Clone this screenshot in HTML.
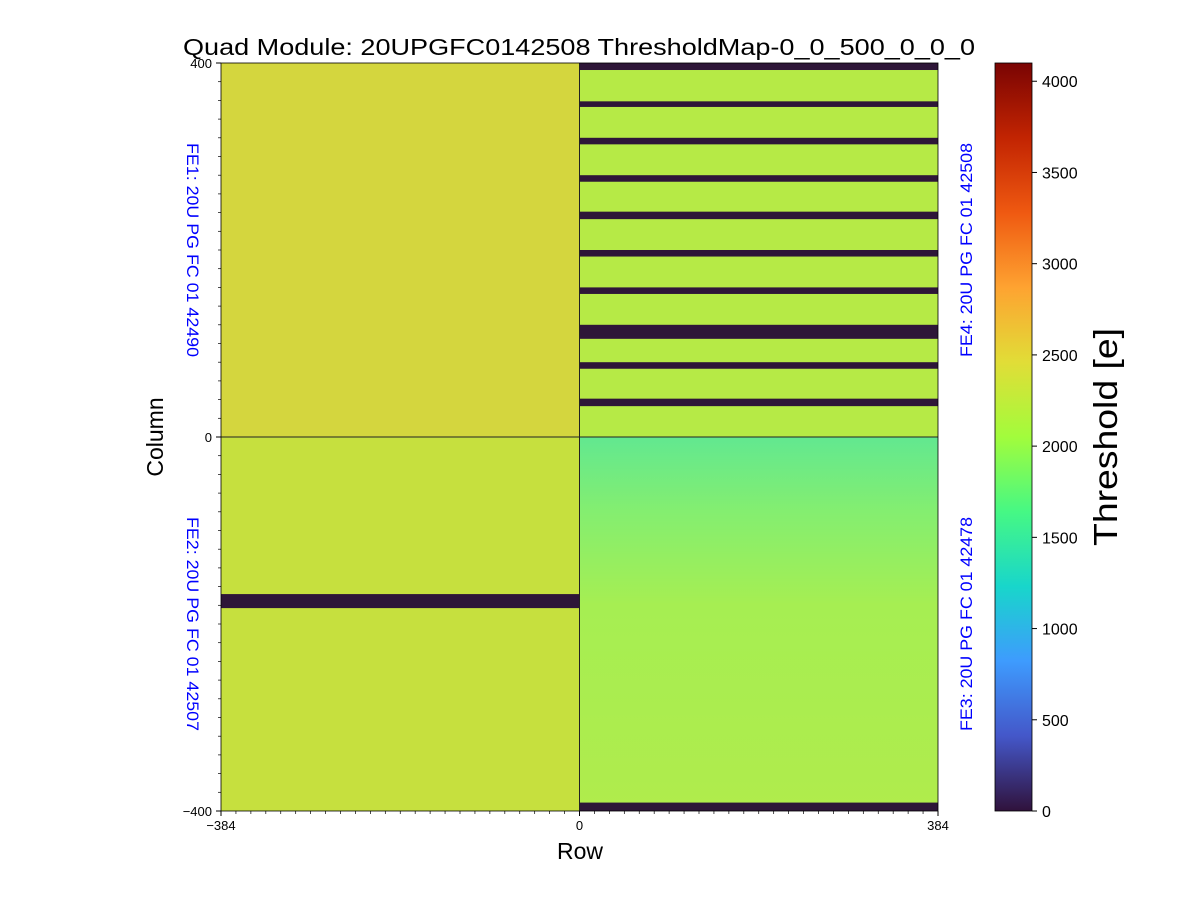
<!DOCTYPE html>
<html><head><meta charset="utf-8"><style>
body{margin:0;background:#fff;width:1200px;height:900px;overflow:hidden;font-family:"Liberation Sans","DejaVu Sans",sans-serif}
</style></head><body>
<svg id="chart" width="1200" height="900" xmlns="http://www.w3.org/2000/svg">
<defs>
<linearGradient id="turbo" x1="0" y1="1" x2="0" y2="0">
<stop offset="0" stop-color="#30123b"/><stop offset="0.1" stop-color="#4457c9"/><stop offset="0.2" stop-color="#3e9bfe"/>
<stop offset="0.3" stop-color="#18d6cb"/><stop offset="0.4" stop-color="#46f884"/><stop offset="0.5" stop-color="#a2fc3c"/>
<stop offset="0.6" stop-color="#e1dd37"/><stop offset="0.7" stop-color="#fea331"/><stop offset="0.8" stop-color="#ef5911"/>
<stop offset="0.9" stop-color="#c22402"/><stop offset="1" stop-color="#7a0403"/>
</linearGradient>
<linearGradient id="fe3grad" x1="0" y1="0" x2="0" y2="1">
<stop offset="0" stop-color="#62e890"/><stop offset="0.2" stop-color="#84ee70"/><stop offset="0.45" stop-color="#a6ee52"/><stop offset="1" stop-color="#b0ec4c"/>
</linearGradient>
</defs>
<g id="plot"></g>
<text x="579" y="55" font-size="23.5" text-anchor="middle" textLength="792" lengthAdjust="spacingAndGlyphs">Quad Module: 20UPGFC0142508 ThresholdMap-0_0_500_0_0_0</text>
<text x="580" y="859" font-size="23" text-anchor="middle">Row</text>
<text transform="translate(163,437) rotate(-90)" font-size="23" text-anchor="middle">Column</text>
<text transform="translate(187,250) rotate(90)" font-size="17" fill="#0000ff" text-anchor="middle" textLength="214" lengthAdjust="spacingAndGlyphs">FE1: 20U PG FC 01 42490</text>
<text transform="translate(187,624) rotate(90)" font-size="17" fill="#0000ff" text-anchor="middle" textLength="214" lengthAdjust="spacingAndGlyphs">FE2: 20U PG FC 01 42507</text>
<text transform="translate(972,250) rotate(-90)" font-size="17" fill="#0000ff" text-anchor="middle" textLength="214" lengthAdjust="spacingAndGlyphs">FE4: 20U PG FC 01 42508</text>
<text transform="translate(972,624) rotate(-90)" font-size="17" fill="#0000ff" text-anchor="middle" textLength="214" lengthAdjust="spacingAndGlyphs">FE3: 20U PG FC 01 42478</text>
<rect x="995" y="63" width="37" height="748" fill="url(#turbo)" stroke="#000" stroke-width="0.8"/>
<g id="cbticks"></g>
<text transform="translate(1117,437) rotate(-90)" font-size="33" text-anchor="middle" textLength="218" lengthAdjust="spacingAndGlyphs">Threshold [e]</text>
</svg>
<script>
const xTicks=[-384,0,384];
const yTicks=[400,0,-400];
const cbTicks=[0,500,1000,1500,2000,2500,3000,3500,4000];
const fe4Bands=[[392.5,400],[353,359],[313,320],[273,280],[233,241],[193,200],[153,160],[105,120],[73,80],[33,41]];
const fe2Bands=[[-183,-168]];
const fe3Bands=[[-400,-391]];
const quadColors=["#d4d63e","#c6e03e","#b6ea46"];
const NS="http://www.w3.org/2000/svg";
const X0=221,X1=938,Y0=63,Y1=811;
const sx=v=>X0+(v+384)/768*(X1-X0);
const sy=v=>Y1-(v+400)/800*(Y1-Y0);
const cy=v=>811-v/4100*748;
const plot=document.getElementById('plot');
function mk(tag,attrs,parent){const e=document.createElementNS(NS,tag);for(const k in attrs)e.setAttribute(k,attrs[k]);(parent||plot).appendChild(e);return e;}
let r;
r=mk('rect',{x:sx(-384),y:sy(400),width:sx(0)-sx(-384),height:sy(0)-sy(400),fill:quadColors[0]});

r=mk('rect',{x:sx(-384),y:sy(0),width:sx(0)-sx(-384),height:sy(-400)-sy(0),fill:quadColors[1]});

r=mk('rect',{x:sx(0),y:sy(400),width:sx(384)-sx(0),height:sy(0)-sy(400),fill:quadColors[2]});

r=mk('rect',{x:sx(0),y:sy(0),width:sx(384)-sx(0),height:sy(-400)-sy(0),fill:"url(#fe3grad)"});

function bands(list,xa,xb,name){list.forEach(b=>{const e=mk('rect',{x:sx(xa),y:sy(b[1]),width:sx(xb)-sx(xa),height:sy(b[0])-sy(b[1]),fill:"#2e1638"});

});}
bands(fe4Bands,0,384,'fe4-dead-band');bands(fe2Bands,-384,0,'fe2-dead-band');bands(fe3Bands,0,384,'fe3-dead-band');
mk('line',{x1:sx(0),x2:sx(0),y1:Y0,y2:Y1,stroke:"#222","stroke-width":1});
mk('line',{x1:X0,x2:X1,y1:sy(0),y2:sy(0),stroke:"#222","stroke-width":1});
r=mk('rect',{x:X0,y:Y0,width:X1-X0,height:Y1-Y0,fill:"none",stroke:"#000","stroke-width":0.8});

xTicks.forEach(v=>{mk('line',{x1:sx(v),x2:sx(v),y1:Y1,y2:Y1+5,stroke:"#000"});
const t=mk('text',{x:sx(v),y:Y1+19,"font-size":13,"text-anchor":"middle"});t.textContent=String(v).replace('-','\u2212');
});
for(let v=-384;v<=384;v+=16)mk('line',{x1:sx(v),x2:sx(v),y1:Y1,y2:Y1+3,stroke:"#000","stroke-width":0.7});
yTicks.forEach(v=>{mk('line',{x1:X0-5,x2:X0,y1:sy(v),y2:sy(v),stroke:"#000"});
const t=mk('text',{x:X0-9,y:sy(v)+5,"font-size":13,"text-anchor":"end"});t.textContent=String(v).replace('-','\u2212');
});
for(let v=-400;v<=400;v+=20)mk('line',{x1:X0-3,x2:X0,y1:sy(v),y2:sy(v),stroke:"#000","stroke-width":0.7});
const cg=document.getElementById('cbticks');
cbTicks.forEach(v=>{mk('line',{x1:1032,x2:1037,y1:cy(v),y2:cy(v),stroke:"#000"},cg);
const t=mk('text',{x:1042,y:cy(v)+6,"font-size":16},cg);t.textContent=v;
});
</script>
</body></html>
